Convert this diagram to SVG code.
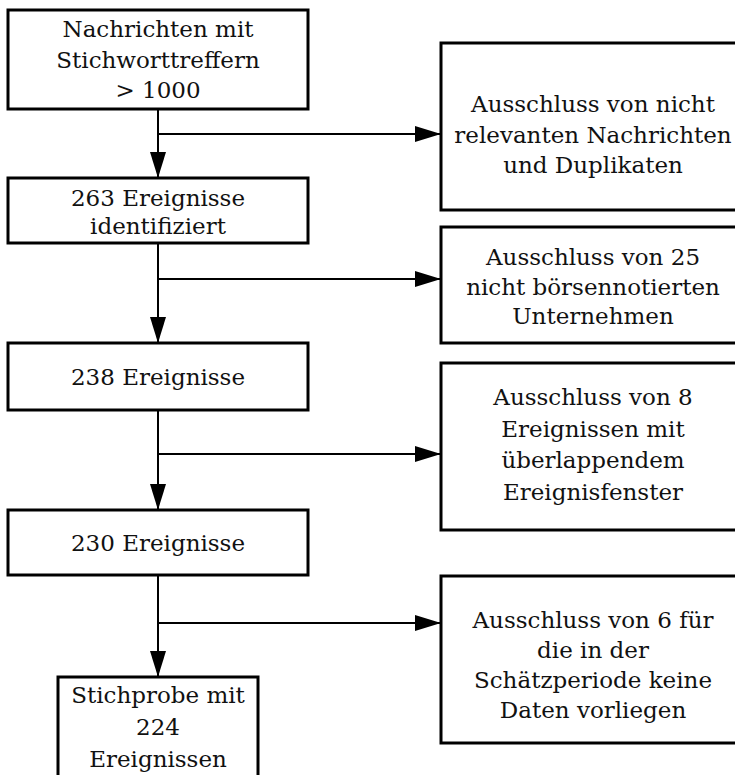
<svg xmlns="http://www.w3.org/2000/svg" width="735" height="775" viewBox="0 0 735 775">
<defs>
<style>
.box{fill:#fff;stroke:#000;stroke-width:3}
.t{font-family:"DejaVu Serif","Liberation Serif",serif;font-size:23px;fill:#111;text-anchor:middle}
.c{fill:none;stroke:#000;stroke-width:2}
</style>
<marker id="ah" markerWidth="26" markerHeight="16" refX="26" refY="8" orient="auto" markerUnits="userSpaceOnUse">
<path d="M0,0 L26,8 L0,16 Z" fill="#000"/>
</marker>
</defs>
<rect width="735" height="775" fill="#fff"/>
<g id="connectors">
<path class="c" d="M158,109 V178" marker-end="url(#ah)"/>
<path class="c" d="M158,134 H441" marker-end="url(#ah)"/>
<path class="c" d="M158,243 V343" marker-end="url(#ah)"/>
<path class="c" d="M158,279 H441" marker-end="url(#ah)"/>
<path class="c" d="M158,410 V510" marker-end="url(#ah)"/>
<path class="c" d="M158,454 H441" marker-end="url(#ah)"/>
<path class="c" d="M158,575 V677" marker-end="url(#ah)"/>
<path class="c" d="M158,623 H441" marker-end="url(#ah)"/>
</g>
<g id="n1"><rect class="box" x="8" y="10" width="300" height="99"/>
<text class="t" x="158" y="37">Nachrichten mit</text><text class="t" x="158" y="68">Stichworttreffern</text><text class="t" x="158" y="98">&gt; 1000</text></g>
<g id="n2"><rect class="box" x="8" y="178" width="300" height="65"/>
<text class="t" x="158" y="206">263 Ereignisse</text><text class="t" x="158" y="234">identifiziert</text></g>
<g id="n3"><rect class="box" x="8" y="343" width="300" height="67"/>
<text class="t" x="158" y="385">238 Ereignisse</text></g>
<g id="n4"><rect class="box" x="8" y="510" width="300" height="65"/>
<text class="t" x="158" y="551">230 Ereignisse</text></g>
<g id="n5"><rect class="box" x="58" y="677" width="200" height="120"/>
<text class="t" x="158" y="703">Stichprobe mit</text><text class="t" x="158" y="735">224</text><text class="t" x="158" y="767">Ereignissen</text></g>
<g id="r1"><rect class="box" x="441" y="43" width="304" height="167"/>
<text class="t" x="593" y="112">Ausschluss von nicht</text><text class="t" x="593" y="143">relevanten Nachrichten</text><text class="t" x="593" y="173">und Duplikaten</text></g>
<g id="r2"><rect class="box" x="441" y="227" width="304" height="116"/>
<text class="t" x="593" y="265">Ausschluss von 25</text><text class="t" x="593" y="295">nicht börsennotierten</text><text class="t" x="593" y="324">Unternehmen</text></g>
<g id="r3"><rect class="box" x="441" y="363" width="304" height="167"/>
<text class="t" x="593" y="405">Ausschluss von 8</text><text class="t" x="593" y="437">Ereignissen mit</text><text class="t" x="593" y="468">überlappendem</text><text class="t" x="593" y="500">Ereignisfenster</text></g>
<g id="r4"><rect class="box" x="441" y="576" width="304" height="167"/>
<text class="t" x="593" y="628">Ausschluss von 6 für</text><text class="t" x="593" y="658">die in der</text><text class="t" x="593" y="688">Schätzperiode keine</text><text class="t" x="593" y="718">Daten vorliegen</text></g>
</svg>
